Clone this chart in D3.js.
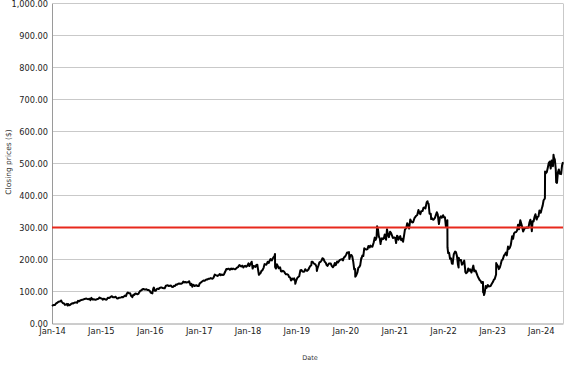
<!DOCTYPE html>
<html><head><meta charset="utf-8">
<script src="https://cdn.jsdelivr.net/npm/d3@7"></script>
<style>body{margin:0;background:#fff}svg{display:block}text{font-family:"DejaVu Sans",Verdana,sans-serif}</style>
</head><body>
<svg id="c" width="577" height="367"></svg>
<script>
// Closing prices sampled on the 1st and 15th of each month
const close2014=[54.7,57.6,62.6,67.1,68.8,68.0,62.6,58.9,61.2,58.0,63.3,64.5,66.0,71.0,72.4,74.3,76.8,77.9,76.0,73.2,74.9,74.9,75.6,78.0];
const close2015=[78.5,74.1,75.9,75.6,79.6,83.0,82.3,82.1,78.8,80.5,81.7,82.0,87.6,94.0,94.2,86.1,89.9,93.4,91.5,97.5,103.9,108.0,106.2,104.6];
const close2016=[102.2,95.0,112.2,102.0,108.9,111.0,112.2,110.5,118.1,119.8,118.0,114.6,117.6,121.9,124.4,123.9,126.5,128.4,128.2,128.9,120.0,117.0,117.0,119.9];
const close2017=[116.9,127.5,133.2,133.8,137.4,139.8,141.8,140.0,152.8,150.2,151.5,150.6,151.4,159.3,169.3,170.8,172.0,171.7,169.6,174.8,182.7,178.0,175.1,180.2];
const close2018=[181.4,179.4,193.1,179.5,176.6,183.8,155.1,164.5,173.9,184.0,193.0,195.9,197.0,207.3,171.7,179.5,175.7,162.3,162.4,153.7,151.8,144.2,140.6,141.3];
const close2019=[135.7,145.4,165.7,162.5,162.3,166.0,168.7,180.0,193.0,186.3,177.5,181.3,193.0,203.9,192.7,182.6,187.5,187.2,175.8,188.9,193.6,195.1,199.7,196.8];
const close2020=[209.8,221.8,201.9,214.2,192.5,170.3,159.6,176.8,202.3,210.9,231.9,232.5,237.6,240.3,253.7,261.2,295.4,266.0,266.6,265.9,261.4,276.9,286.6,275.6];
const close2021=[268.9,251.4,262.0,273.0,264.3,273.8,298.7,307.8,325.1,315.9,329.1,336.8,354.7,341.7,351.9,362.7,379.5,373.9,343.0,324.8,330.0,347.6,310.6,334.9];
const close2022=[338.5,331.9,319.0,221.0,203.5,192.0,224.9,210.2,200.5,198.6,188.6,169.4,160.0,164.7,159.1,180.9,165.4,149.6,135.7,126.8,95.2,117.1,120.4,116.2];
const close2023=[124.7,136.7,153.1,179.4,174.8,197.8,211.9,221.5,240.3,237.0,272.6,281.8,286.0,308.9,322.7,301.6,296.4,300.3,300.2,324.2,319.8,332.7,324.8,334.9];
const close2024=[346.3,368.4,394.8,473.3,502.3,484.1,491.4,511.9,439.2,481.5,466.8,504.2];
// Closing prices sampled on the 8th and 22nd of each month
const mid2014=[57.2,57.5,64.3,68.6,69.8,64.1,58.2,61.2,57.2,60.5,62.5,65.6,64.9,69.3,73.1,74.6,77.4,76.8,77.5,80.0,75.6,74.0,76.5,81.4];
const mid2015=[78.2,77.6,74.2,80.4,80.6,85.4,82.3,83.6,78.1,80.5,82.8,84.6,85.7,97.0,94.4,86.1,89.4,93.2,92.5,102.0,107.1,106.4,106.9,105.0];
const mid2016=[97.3,97.9,102.5,107.2,107.5,112.4,110.6,110.1,119.0,116.9,118.4,114.4,117.2,121.0,125.0,124.2,131.0,129.8,128.9,132.1,124.2,121.2,119.0,117.4];
const mid2017=[124.9,129.4,134.2,136.1,137.7,139.5,140.8,143.7,151.1,148.5,154.7,153.4,152.9,165.6,171.2,167.8,169.5,170.5,172.2,176.1,180.2,180.9,179.0,177.2];
const mid2018=[187.9,185.4,171.6,178.7,182.7,164.9,157.2,166.3,185.5,183.8,189.1,201.5,203.2,210.9,185.2,172.6,163.0,164.9,157.3,154.1,144.9,134.4,137.4,133.2];
const mid2019=[142.5,147.6,167.3,161.9,169.6,164.3,175.0,181.4,189.5,185.3,173.0,191.1,196.9,202.3,190.2,180.1,187.5,180.0,180.0,182.3,190.8,198.8,201.1,206.3];
const mid2020=[215.2,221.3,212.3,210.2,169.5,149.7,174.3,182.3,212.4,234.9,231.4,242.2,243.6,239.9,268.4,269.4,271.9,253.1,263.8,278.1,294.7,269.7,283.4,267.1];
const mid2021=[267.6,274.5,267.0,260.3,255.3,293.5,313.1,296.5,319.1,316.2,333.0,339.0,345.6,351.2,362.1,359.4,377.6,343.2,330.1,324.6,338.6,341.0,330.6,330.4];
const mid2022=[331.8,303.2,220.2,202.1,187.5,216.6,222.3,184.1,197.6,183.8,196.6,157.1,172.2,169.3,170.3,163.1,157.4,142.8,133.5,130.0,96.5,111.4,115.9,117.1];
const mid2023=[129.5,139.4,183.4,170.0,185.2,199.8,216.1,212.9,233.3,245.6,264.6,284.9,290.5,294.3,312.6,287.6,297.9,299.1,315.4,308.7,318.8,341.5,332.8,353.4];
const mid2024=[358.7,385.2,469.6,486.1,505.9,509.6,519.3,481.7,472.6,467.8,494.4];
// Notable closes between the samples
const extremes=[["2014-03-10",72.0],["2014-04-28",56.1],["2015-08-24",82.1],["2016-01-21",94.2],["2016-01-28",109.1],["2016-11-14",115.1],["2017-07-27",170.4],["2018-02-01",193.1],["2018-03-27",152.2],["2018-07-25",217.5],["2018-07-26",176.3],["2018-12-24",124.1],["2019-01-31",166.7],["2019-04-25",193.3],["2019-06-03",164.2],["2020-01-29",223.2],["2020-03-16",146.0],["2020-04-30",204.7],["2020-08-26",303.9],["2020-09-21",248.2],["2021-01-27",272.1],["2021-03-08",255.3],["2021-09-07",382.2],["2021-10-04",326.2],["2022-02-02",323.0],["2022-02-03",237.8],["2022-03-14",186.6],["2022-04-27",175.0],["2022-04-28",205.7],["2022-06-16",160.9],["2022-10-26",129.8],["2022-10-27",97.9],["2022-11-03",88.9],["2023-02-02",188.8],["2023-10-26",288.4],["2024-01-31",390.1],["2024-02-02",475.0],["2024-04-05",527.3],["2024-04-25",441.4]];
const years=[2014,2015,2016,2017,2018,2019,2020,2021,2022,2023,2024];
const firstHalf=[close2014,close2015,close2016,close2017,close2018,close2019,close2020,close2021,close2022,close2023,close2024];
const secondHalf=[mid2014,mid2015,mid2016,mid2017,mid2018,mid2019,mid2020,mid2021,mid2022,mid2023,mid2024];
const yTicks=[0,100,200,300,400,500,600,700,800,900,1000];
const threshold=300;
const yLabel="Closing prices ($)", xLabel="Date";

const parse=d3.timeParse("%Y-%m-%d");
let data=[];
years.forEach((yr,k)=>{
  firstHalf[k].forEach((v,i)=>data.push({date:new Date(yr,Math.floor(i/2),i%2?15:1),value:v}));
  secondHalf[k].forEach((v,i)=>data.push({date:new Date(yr,Math.floor(i/2),i%2?22:8),value:v}));
});
extremes.forEach(([d,v])=>data.push({date:parse(d),value:v}));
data.sort((a,b)=>a.date-b.date);

const L=52,R=563,T=3.5,B=323.5;
const svg=d3.select("#c");
const x=d3.scaleTime().domain([new Date(2014,0,1),new Date(2024,5,15)]).range([L,R]);
const y=d3.scaleLinear().domain([0,1000]).range([B,T]);

svg.append("g").selectAll("line").data(yTicks.filter(d=>d>0)).join("line")
  .attr("x1",L).attr("x2",R).attr("y1",d=>y(d)).attr("y2",d=>y(d))
  .attr("stroke","#c9c9c9").attr("stroke-width",1);
svg.append("line").attr("x1",R+0.5).attr("x2",R+0.5).attr("y1",T).attr("y2",B).attr("stroke","#c9c9c9");

const yAxis=svg.append("g").attr("transform",`translate(${L},0)`)
  .call(d3.axisLeft(y).tickValues(yTicks).tickFormat(d3.format(",.2f")).tickSize(0).tickPadding(4));
yAxis.select(".domain").attr("stroke","#9a9a9a");
yAxis.selectAll("text").attr("font-size",8.2).attr("fill","#222").attr("font-family","DejaVu Sans");

const xAxis=svg.append("g").attr("transform",`translate(0,${B})`)
  .call(d3.axisBottom(x).tickValues(years.map(t=>new Date(t,0,1))).tickFormat(d3.timeFormat("%b-%y")).tickSize(0).tickPadding(4.5));
xAxis.select(".domain").attr("stroke","#9a9a9a");
xAxis.selectAll("text").attr("font-size",8.4).attr("fill","#222").attr("font-family","DejaVu Sans");

svg.append("path").datum(data)
  .attr("d",d3.line().x(d=>x(d.date)).y(d=>y(d.value)))
  .attr("fill","none").attr("stroke","#000").attr("stroke-width",2).attr("stroke-linejoin","round");

svg.append("line").attr("x1",L).attr("x2",R).attr("y1",y(threshold)).attr("y2",y(threshold))
  .attr("stroke","#e8291c").attr("stroke-width",2.2);

svg.append("text").attr("transform",`translate(11,162) rotate(-90)`).attr("text-anchor","middle")
  .attr("font-size",7.5).attr("fill","#333").text(yLabel);
svg.append("text").attr("x",310).attr("y",360).attr("text-anchor","middle")
  .attr("font-size",6.5).attr("fill","#333").text(xLabel);
</script>
</body></html>
